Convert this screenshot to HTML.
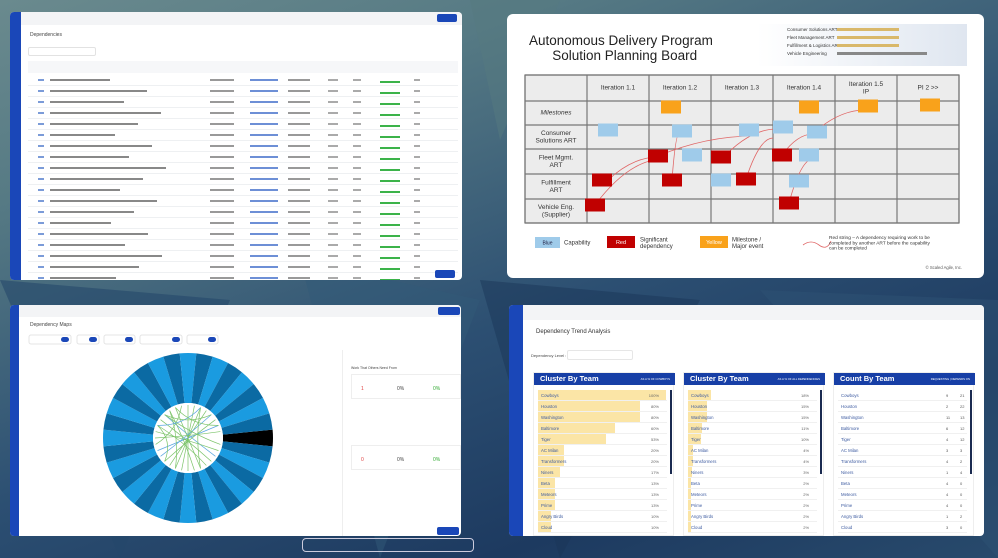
<!DOCTYPE html>
<html><head><meta charset="utf-8">
<style>
*{box-sizing:border-box;margin:0;padding:0}
body{width:998px;height:558px;overflow:hidden;position:relative;font-family:"Liberation Sans",sans-serif;
background:linear-gradient(160deg,#6a8a8e 0%,#567a84 22%,#2c4f72 55%,#1d3a60 80%,#284a6c 100%)}
.abs{position:absolute}
.panel{position:absolute;background:#fff;border-radius:4px;overflow:hidden}
.side{position:absolute;left:0;top:0;bottom:0;background:#1a47b8}
.t{position:absolute;white-space:nowrap;color:#444}
</style></head><body>
<svg class="abs" style="left:0;top:0" width="998" height="558">
<polygon points="470,0 560,0 500,140" fill="#55797f" opacity=".5"/>
<polygon points="0,280 230,300 120,558" fill="#24476a" opacity=".6"/>
<polygon points="480,280 700,300 560,558" fill="#1a3557" opacity=".5"/>
<polygon points="760,290 998,300 998,558" fill="#2d5274" opacity=".5"/>
<polygon points="300,260 480,300 380,558" fill="#325a78" opacity=".5"/>
</svg>

<!-- TOP LEFT: Dependencies table -->
<div class="panel" style="left:10px;top:12px;width:452px;height:268px">
 <div class="side" style="width:11px"></div>
 <div class="abs" style="left:11px;top:0;right:0;height:13px;background:#f3f4f6"></div>
 <div class="abs" style="left:427px;top:2px;width:20px;height:8px;background:#1a47b8;border-radius:2px"></div>
 <div class="t" style="left:20px;top:20px;font-size:5px">Dependencies</div>
 <div class="abs" style="left:18px;top:35px;width:68px;height:9px;border:1px solid #e2e2e2;border-radius:2px"></div>
 <div class="abs" style="left:18px;top:49px;width:430px;height:12px;background:#f6f7f9"></div>
 <div id="tlrows"></div>
 <div class="abs" style="left:425px;top:258px;width:20px;height:8px;background:#1a47b8;border-radius:2px"></div>
</div>

<!-- TOP RIGHT: planning board -->
<div class="panel" style="left:507px;top:14px;width:477px;height:264px;border-radius:6px">
 <div class="t" style="left:22px;top:19px;font-size:13.5px;color:#222;line-height:15px;text-align:center">Autonomous Delivery Program<br>&nbsp;&nbsp;Solution Planning Board</div>
 <div class="abs" style="left:250px;top:10px;width:210px;height:42px;background:linear-gradient(90deg,#fff,#dfe6f0)">
  <div class="t" style="left:30px;top:2px;font-size:4.5px;line-height:8px;color:#333">Consumer Solutions ART<br>Fleet Management ART<br>Fulfillment &amp; Logistics ART<br>Vehicle Engineering</div>
  <div class="abs" style="left:80px;top:4px;width:62px;height:3px;background:#d9b86a"></div>
  <div class="abs" style="left:80px;top:12px;width:62px;height:3px;background:#d9b86a"></div>
  <div class="abs" style="left:80px;top:20px;width:62px;height:3px;background:#d9b86a"></div>
  <div class="abs" style="left:80px;top:28px;width:90px;height:3px;background:#888"></div>
 </div>
 <svg id="board" class="abs" style="left:0;top:0" width="477" height="264"></svg>
</div>

<!-- BOTTOM LEFT: dependency map -->
<div class="panel" style="left:10px;top:305px;width:451px;height:231px">
 <div class="side" style="width:9px"></div>
 <div class="abs" style="left:9px;top:0;right:0;height:12px;background:#f3f4f6"></div>
 <div class="abs" style="left:428px;top:2px;width:22px;height:8px;background:#1a47b8;border-radius:2px"></div>
 <div class="t" style="left:20px;top:17px;font-size:5px">Dependency Maps</div>
 <div class="abs" style="left:332px;top:45px;width:119px;height:186px;border-left:1px solid #eee">
  <div class="t" style="left:8px;top:16px;font-size:3.5px">Work That Others Need From</div>
  <div class="abs" style="left:8px;top:24px;width:110px;height:25px;border:1px solid #eee"></div>
  <div class="t" style="left:18px;top:36px;font-size:5px;color:#e04040">1</div>
  <div class="t" style="left:54px;top:36px;font-size:5px">0%</div>
  <div class="t" style="left:90px;top:36px;font-size:5px;color:#3a3">0%</div>
  <div class="abs" style="left:8px;top:95px;width:110px;height:25px;border:1px solid #eee"></div>
  <div class="t" style="left:18px;top:107px;font-size:5px;color:#e04040">0</div>
  <div class="t" style="left:54px;top:107px;font-size:5px">0%</div>
  <div class="t" style="left:90px;top:107px;font-size:5px;color:#3a3">0%</div>
 </div>
 <div class="abs" style="left:427px;top:222px;width:22px;height:8px;background:#1a47b8;border-radius:2px"></div>
 <svg id="wheel" class="abs" style="left:0;top:0" width="451" height="231"></svg>
</div>

<!-- BOTTOM RIGHT: trend analysis -->
<div class="panel" style="left:509px;top:305px;width:475px;height:231px">
 <div class="side" style="width:14px"></div>
 <div class="abs" style="left:14px;top:0;right:0;height:15px;background:#f3f4f6"></div>
 <div class="t" style="left:27px;top:24px;font-size:6px;color:#333">Dependency Trend Analysis</div>
 <div class="t" style="left:22px;top:48px;font-size:4px">Dependency Level :</div>
 <div class="abs" style="left:58px;top:45px;width:66px;height:10px;border:1px solid #e6e6e6;border-radius:2px"></div>
 <div id="tables"></div>
</div>

<div class="abs" style="left:302px;top:538px;width:172px;height:14px;border:1px solid #ccd;border-radius:4px"></div>

<script>
// ---------- top-left rows ----------
const tlRows = 19;
const tl = document.getElementById('tlrows');
for(let i=0;i<tlRows;i++){
 const r=document.createElement('div');
 
 
 r.className='abs';
 r.style.cssText=`left:18px;top:${63+i*11}px;width:430px;height:11px;border-bottom:1px solid #eef0f2`;
 r.innerHTML=`<div class="abs" style="left:10px;top:4px;width:6px;height:2px;background:#7b9bd8"></div>
 <div class="abs" style="left:22px;top:4px;width:${60+(i*37)%60}px;height:2px;background:#888"></div>
 <div class="abs" style="left:182px;top:4px;width:24px;height:2px;background:#999"></div>
 <div class="abs" style="left:222px;top:4px;width:28px;height:2px;background:#6d8fd6"></div>
 <div class="abs" style="left:260px;top:4px;width:22px;height:2px;background:#999"></div>
 <div class="abs" style="left:300px;top:4px;width:10px;height:2px;background:#aaa"></div>
 <div class="abs" style="left:325px;top:4px;width:8px;height:2px;background:#aaa"></div>
 <div class="abs" style="left:352px;top:6px;width:20px;height:1.5px;background:#3cb34a"></div>
 <div class="abs" style="left:386px;top:4px;width:6px;height:2px;background:#aaa"></div>`;
 tl.appendChild(r);
}

// ---------- planning board ----------
const iterations=["Iteration 1.1","Iteration 1.2","Iteration 1.3","Iteration 1.4","Iteration 1.5\nIP","PI 2 >>"];
const lanes=["Milestones","Consumer\nSolutions ART","Fleet Mgmt.\nART","Fulfillment\nART","Vehicle Eng.\n(Supplier)"];
const NS='http://www.w3.org/2000/svg';
const bd=document.getElementById('board');
const colX=[18,80,142,204,266,328,390,452];
const rowY=[61,87,111,135,160,185,209];
function el(p,tag,a){const e=document.createElementNS(NS,tag);for(const k in a)e.setAttribute(k,a[k]);p.appendChild(e);return e;}
function txt(p,x,y,s,fs,anchor,fill,st){const lines=s.split('\n');lines.forEach((l,i)=>{const t=el(p,'text',{x:x,y:y+(i-(lines.length-1)/2)*fs*1.1,'font-size':fs,'text-anchor':anchor||'middle',fill:fill||'#333','font-style':st||'normal','dominant-baseline':'middle'});t.textContent=l;});}
el(bd,'rect',{x:18,y:61,width:434,height:148,fill:'#ececec',stroke:'#777','stroke-width':1.2});
colX.forEach(x=>el(bd,'line',{x1:x,y1:61,x2:x,y2:209,stroke:'#777','stroke-width':1.2}));
rowY.forEach(y=>el(bd,'line',{x1:18,y1:y,x2:452,y2:y,stroke:'#777','stroke-width':1.2}));
iterations.forEach((s,i)=>txt(bd,(colX[i+1]+colX[i+2])/2,74,s,6.5));
lanes.forEach((s,i)=>txt(bd,49,(rowY[i+1]+rowY[i+2])/2,s,6.5,'middle','#333',i==0?'italic':'normal'));
const orangeCards=[[164,93],[302,93],[361,92],[423,91]];
const blueCards=[[101,116],[175,117],[242,116],[276,113],[310,118],[185,141],[302,141],[214,166],[292,167]];
const redCards=[[151,142],[214,143],[275,141],[95,166],[165,166],[239,165],[88,191],[282,189]];
const strings=[[[101,166],[151,143]],[[88,191],[157,145]],[[165,166],[172,120]],[[151,142],[247,122]],[[214,146],[270,115]],[[239,165],[266,124]],[[275,141],[306,120]],[[310,116],[358,96]],[[282,189],[306,145]]];
strings.forEach(s=>{const[a,b]=s;el(bd,'path',{d:`M${a[0]},${a[1]} Q${(a[0]+b[0])/2},${Math.min(a[1],b[1])} ${b[0]},${b[1]}`,fill:'none',stroke:'#e06666','stroke-width':0.8});});
function card(c,fill,name){const r=el(bd,'rect',{x:c[0]-10,y:c[1]-6.5,width:20,height:13,fill:fill});}
orangeCards.forEach(c=>card(c,'#f9a21b','milestone-card'));
blueCards.forEach(c=>card(c,'#9fcbea','capability-card'));
redCards.forEach(c=>card(c,'#c00000','dependency-card'));
el(bd,'rect',{x:28,y:223,width:25,height:11,fill:'#9fcbea'});txt(bd,40.5,229,'Blue',5,'middle','#224');
txt(bd,57,229,'Capability',6,'start');
el(bd,'rect',{x:100,y:222,width:28,height:12,fill:'#c00000'});txt(bd,114,228.5,'Red',5.5,'middle','#fff');
txt(bd,133,229,'Significant\ndependency',6,'start');
el(bd,'rect',{x:193,y:222,width:28,height:12,fill:'#f9a21b'});txt(bd,207,228.5,'Yellow',5.5,'middle','#fff');
txt(bd,225,229,'Milestone /\nMajor event',6,'start');
el(bd,'path',{d:'M296,231 q8,-6 16,0 t12,-4',fill:'none',stroke:'#e06666','stroke-width':0.8});
txt(bd,322,229,'Red string – A dependency requiring work to be\ncompleted by another ART before the capability\ncan be completed',4.8,'start');
txt(bd,455,254,'© Scaled Agile, Inc.',4.2,'end','#555');

// ---------- chord wheel ----------
const wheelSegments=32;
const highlightSegment=0;
const chordPairs=[[3,20],[5,18],[6,22],[8,24],[10,26],[12,29],[14,30],[2,17],[7,21],[9,25],[11,27],[4,19],[13,28],[15,23],[16,31],[1,20],[6,26],[10,21],[18,26],[20,28],[12,18],[22,30]];
const wv=document.getElementById('wheel');
const cx=178,cy=133,R=85,r0=35;
for(let i=0;i<wheelSegments;i++){
 const a0=(i-0.5)*2*Math.PI/wheelSegments,a1=(i+0.5)*2*Math.PI/wheelSegments;
 const p=el(wv,'path',{d:`M${cx+r0*Math.cos(a0)},${cy+r0*Math.sin(a0)} L${cx+R*Math.cos(a0)},${cy+R*Math.sin(a0)} A${R},${R} 0 0 1 ${cx+R*Math.cos(a1)},${cy+R*Math.sin(a1)} L${cx+r0*Math.cos(a1)},${cy+r0*Math.sin(a1)} A${r0},${r0} 0 0 0 ${cx+r0*Math.cos(a0)},${cy+r0*Math.sin(a0)}Z`,
 fill:i===highlightSegment?'#000':(i%2?'#0b6aa3':'#1a9be0')});
 
 
}
el(wv,'circle',{cx:cx,cy:cy,r:r0,fill:'#fff'});
chordPairs.forEach((c,k)=>{const a=c[0]*2*Math.PI/wheelSegments,b=c[1]*2*Math.PI/wheelSegments;
 const x1=cx+33*Math.cos(a),y1=cy+33*Math.sin(a),x2=cx+33*Math.cos(b),y2=cy+33*Math.sin(b);
 const mx=(x1+x2)/2,my=(y1+y2)/2;
 const qx=mx+(cx-mx)*0.45,qy=my+(cy-my)*0.45;
 const p=el(wv,'path',{d:`M${x1},${y1} Q${qx},${qy} ${x2},${y2}`,fill:'none',stroke:k%6==0?'#5aa6e0':'#7cc46a','stroke-width':0.7});
 
 
});
const toggleX=[19,67,94,130,177];
const toggleW=[42,22,31,42,31];
toggleX.forEach((x,i)=>{
 const g=el(wv,'rect',{x:x,y:30,width:toggleW[i],height:9,rx:2,fill:'#fff',stroke:'#e4e4e4'});
 
 
 el(wv,'rect',{x:x+toggleW[i]-10,y:32,width:8,height:5,rx:2.5,fill:'#1a47b8'});
});

// ---------- trend tables ----------
const teams=["Cowboys","Houston","Washington","Baltimore","Tiger","AC Milan","Transformers","Niners","Beta","Meteors","Prime","Angry Birds","Cloud"];
const pctOfCowboys=[100,80,80,60,53,20,20,17,13,13,13,10,10];
const pctOfAll=[18,15,15,11,10,4,4,3,2,2,2,2,2];
const requesting=[9,2,11,6,4,3,4,1,4,4,4,1,3];
const dependsOn=[21,22,13,12,12,3,2,4,0,0,0,2,0];
const tables=[{title:"Cluster By Team",sub:"AS A % OF COWBOYS",x:24,vals:pctOfCowboys},{title:"Cluster By Team",sub:"AS A % OF ALL DEPENDENCIES",x:174,vals:pctOfAll},{title:"Count By Team",sub:"REQUESTING | DEPENDS ON",x:324}];
const tw=document.getElementById('tables');
const barMax=128;
tables.forEach((T,ti)=>{
 const box=document.createElement('div');
 
 
 box.className='abs';
 box.style.cssText=`left:${T.x}px;top:67px;width:141px;height:164px;border:1px solid #eee`;
 box.innerHTML=`<div class="abs" style="left:0;top:0;width:141px;height:12px;background:#173fa6"></div>
 <div class="t" style="left:6px;top:1px;font-size:7.5px;color:#fff;font-weight:bold">${T.title}</div>
 <div class="t" style="right:3px;top:4px;font-size:2.8px;color:#fff">${T.sub}</div>
 <div class="abs" style="left:136px;top:17px;width:2px;height:84px;background:#1a2a50"></div>`;
 teams.forEach((n,i)=>{
  const y=22+i*11;
  const row=document.createElement('div');
  
  
  row.className='abs';
  row.style.cssText=`left:4px;top:${y-5}px;width:129px;height:11px;border-bottom:1px solid #f0f0f0`;
  let inner='';
  if(T.vals){
   inner+=`<div class="abs" style="left:0;top:0;width:${T.vals[i]/100*barMax}px;height:10px;background:#fbe5a6"></div>`;
   inner+=`<div class="t" style="right:8px;top:3px;font-size:4px;color:#666">${T.vals[i]}%</div>`;
  } else {
   inner+=`<div class="t" style="left:108px;top:3px;font-size:4px;color:#555">${requesting[i]}</div><div class="t" style="left:122px;top:3px;font-size:4px;color:#555">${dependsOn[i]}</div>`;
  }
  inner+=`<div class="t" style="left:3px;top:3px;font-size:4.3px;color:#3c5aa0">${n}</div>`;
  row.innerHTML=inner;
  box.appendChild(row);
 });
 tw.appendChild(box);
});
</script>
</body></html>
